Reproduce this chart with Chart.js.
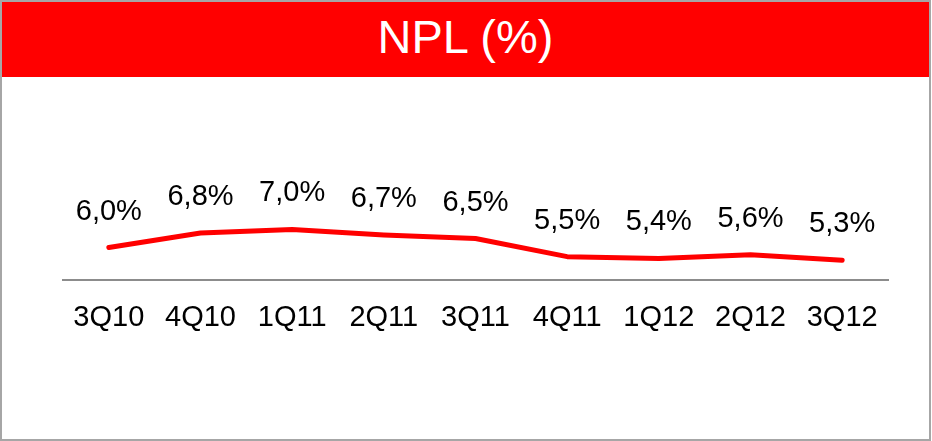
<!DOCTYPE html>
<html>
<head>
<meta charset="utf-8">
<script src="https://cdn.jsdelivr.net/npm/chart.js@4.4.0/dist/chart.umd.min.js"></script>
<style>
  body { margin: 0; background: #fff; font-family: "Liberation Sans", Arial, sans-serif; }
  #wrap { position: relative; width: 932px; height: 441px; }
  #npl { position: absolute; left: 0; top: 0; }
  #header {
    position: absolute; left: 2px; top: 2px; width: 927px; height: 75px;
    background: #ff0000; color: #fff; font-size: 47px; line-height: 70px;
    text-align: center;
  }
  #frame {
    position: absolute; left: 0; top: 0; width: 931px; height: 441px;
    box-sizing: border-box; border: 2px solid #a6a6a6; pointer-events: none;
  }
</style>
</head>
<body>
<div id="wrap">
  <canvas id="npl" width="932" height="441"></canvas>
  <div id="header">NPL (%)</div>
  <div id="frame"></div>
</div>
<script>
const quarters = ['3Q10', '4Q10', '1Q11', '2Q11', '3Q11', '4Q11', '1Q12', '2Q12', '3Q12'];
const nplValues = [6.0, 6.8, 7.0, 6.7, 6.5, 5.5, 5.4, 5.6, 5.3];

// etiquetas de valor encima de cada punto (formato con coma decimal)
const valueLabels = {
    id: 'valueLabels',
    afterDatasetsDraw(chart) {
        const ctx = chart.ctx;
        const meta = chart.getDatasetMeta(0);
        ctx.save();
        ctx.font = '29px "Liberation Sans", Arial, sans-serif';
        ctx.fillStyle = '#000';
        ctx.textAlign = 'center';
        ctx.textBaseline = 'middle';
        meta.data.forEach((pt, i) => {
            const txt = nplValues[i].toFixed(1).replace('.', ',') + '%';
            ctx.fillText(txt, pt.x, pt.y - 36);
        });
        ctx.restore();
    }
};

const ctx = document.getElementById('npl').getContext('2d');
const chart = new Chart(ctx, {
    type: 'line',
    data: {
        labels: quarters,
        datasets: [{
            label: 'NPL (%)',
            data: nplValues,
            borderColor: '#ff0000',
            borderWidth: 5,
            borderCapStyle: 'round',
            borderJoinStyle: 'round',
            pointRadius: 0,
            tension: 0,
            fill: false
        }]
    },
    options: {
        responsive: false,
        animation: false,
        layout: { padding: { left: 63, right: 44, top: 99, bottom: 86 } },
        plugins: { legend: { display: false }, tooltip: { enabled: false } },
        scales: {
            x: {
                offset: true,
                grid: { display: false, drawTicks: false },
                border: { display: true, color: '#8c8c8c', width: 2 },
                ticks: {
                    color: '#000',
                    padding: 20,
                    font: { family: '"Liberation Sans", Arial, sans-serif', size: 29 }
                }
            },
            y: {
                display: false,
                min: 4.2,
                max: 14.2
            }
        }
    },
    plugins: [valueLabels]
});
</script>
</body>
</html>
